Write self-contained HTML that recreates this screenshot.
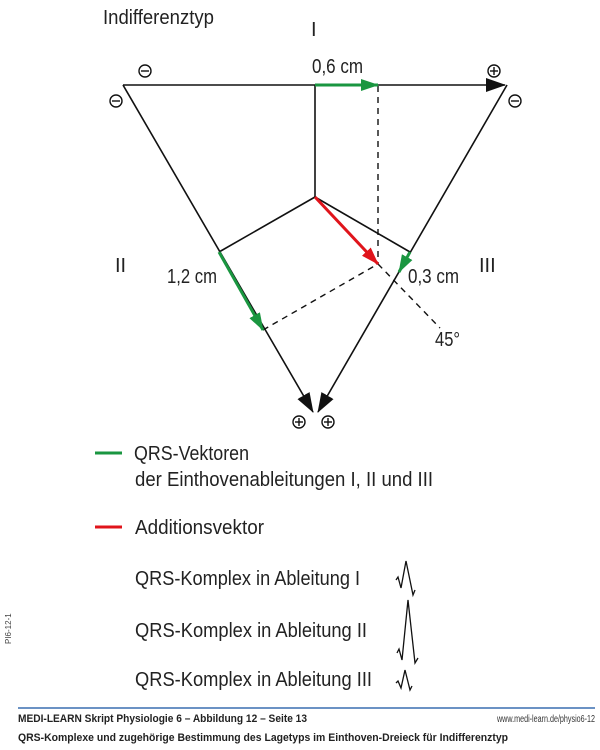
<!DOCTYPE html>
<html><head><meta charset="utf-8"><style>
body{margin:0;background:#fff;width:600px;height:745px;overflow:hidden}
svg text{font-family:"Liberation Sans Narrow","Liberation Sans",sans-serif}
</style></head><body>
<svg width="600" height="745" viewBox="0 0 600 745" xmlns="http://www.w3.org/2000/svg">
<defs>
<marker id="ag" markerWidth="18" markerHeight="12" refX="17" refY="6" orient="auto" markerUnits="userSpaceOnUse"><path d="M0,0 L18,6 L0,12 Z" fill="#1a9640"/></marker>
<marker id="ar" markerWidth="18" markerHeight="12" refX="17" refY="6" orient="auto" markerUnits="userSpaceOnUse"><path d="M0,0 L18,6 L0,12 Z" fill="#e0141b"/></marker>
<marker id="ak" markerWidth="20" markerHeight="14" refX="19" refY="7" orient="auto" markerUnits="userSpaceOnUse"><path d="M0,0 L20,7 L0,14 Z" fill="#111"/></marker>
</defs>
<g font-size="20" fill="#222">
<text x="103" y="24" textLength="111" lengthAdjust="spacingAndGlyphs">Indifferenztyp</text>
<text x="311" y="36">I</text>
<text x="115" y="272">II</text>
<text x="479" y="272">III</text>
<text x="312" y="73" textLength="51" lengthAdjust="spacingAndGlyphs">0,6 cm</text>
<text x="167" y="283" textLength="50" lengthAdjust="spacingAndGlyphs">1,2 cm</text>
<text x="408" y="283" textLength="51" lengthAdjust="spacingAndGlyphs">0,3 cm</text>
<text x="435" y="346" textLength="25" lengthAdjust="spacingAndGlyphs">45°</text>
</g>
<g stroke="#111" stroke-width="1.6" fill="none">
<line x1="123" y1="85" x2="505" y2="85" marker-end="url(#ak)"/>
<line x1="123" y1="85" x2="313" y2="412" marker-end="url(#ak)"/>
<line x1="507" y1="85" x2="318" y2="412" marker-end="url(#ak)"/>
<line x1="315" y1="85" x2="315" y2="197"/>
<line x1="315" y1="197" x2="219" y2="252"/>
<line x1="315" y1="197" x2="410" y2="252"/>
</g>
<g stroke="#111" stroke-width="1.4" stroke-dasharray="6,5" fill="none">
<line x1="378" y1="86" x2="378" y2="264"/>
<line x1="263" y1="330" x2="378" y2="264"/>
<line x1="378" y1="264" x2="440" y2="328"/>
</g>
<g stroke-width="3" fill="none">
<line x1="315" y1="85" x2="378" y2="85" stroke="#1a9640" marker-end="url(#ag)"/>
<line x1="219" y1="252" x2="263" y2="330" stroke="#1a9640" marker-end="url(#ag)"/>
<line x1="410" y1="252" x2="399" y2="272" stroke="#1a9640" marker-end="url(#ag)"/>
<line x1="315" y1="197" x2="378" y2="264" stroke="#e0141b" marker-end="url(#ar)"/>
</g>
<g stroke="#111" stroke-width="1.4" fill="none">
<circle cx="145" cy="71" r="6"/><line x1="141" y1="71" x2="149" y2="71"/>
<circle cx="116" cy="101" r="6"/><line x1="112" y1="101" x2="120" y2="101"/>
<circle cx="515" cy="101" r="6"/><line x1="511" y1="101" x2="519" y2="101"/>
<circle cx="494" cy="71" r="6"/><line x1="490" y1="71" x2="498" y2="71"/><line x1="494" y1="67" x2="494" y2="75"/>
<circle cx="299" cy="422" r="6"/><line x1="295" y1="422" x2="303" y2="422"/><line x1="299" y1="418" x2="299" y2="426"/>
<circle cx="328" cy="422" r="6"/><line x1="324" y1="422" x2="332" y2="422"/><line x1="328" y1="418" x2="328" y2="426"/>
</g>
<line x1="95" y1="453" x2="122" y2="453" stroke="#1a9640" stroke-width="3"/>
<line x1="95" y1="527" x2="122" y2="527" stroke="#e0141b" stroke-width="3"/>
<g font-size="20" fill="#222">
<text x="134" y="460" textLength="115" lengthAdjust="spacingAndGlyphs">QRS-Vektoren</text>
<text x="135" y="486" textLength="298" lengthAdjust="spacingAndGlyphs">der Einthovenableitungen I, II und III</text>
<text x="135" y="534" textLength="129" lengthAdjust="spacingAndGlyphs">Additionsvektor</text>
<text x="135" y="585" textLength="225" lengthAdjust="spacingAndGlyphs">QRS-Komplex in Ableitung I</text>
<text x="135" y="637" textLength="232" lengthAdjust="spacingAndGlyphs">QRS-Komplex in Ableitung II</text>
<text x="135" y="686" textLength="237" lengthAdjust="spacingAndGlyphs">QRS-Komplex in Ableitung III</text>
</g>
<g stroke="#111" stroke-width="1.3" fill="none">
<polyline points="396,580 398,577 401,588 406,561 413,595 415,590"/>
<polyline points="397,653 399,649 402,660 408,600 415,663 418,658"/>
<polyline points="396,683 398,681 401,688 405,670 410,690 412,686"/>
</g>
<line x1="18" y1="708" x2="595" y2="708" stroke="#3a6fb0" stroke-width="1.5"/>
<text x="18" y="722" font-size="11" font-weight="bold" fill="#222" font-family="Liberation Sans,sans-serif" textLength="289" lengthAdjust="spacingAndGlyphs">MEDI-LEARN Skript Physiologie 6 – Abbildung 12 – Seite 13</text>
<text x="497" y="722" font-size="10" fill="#333" font-family="Liberation Sans,sans-serif" textLength="98" lengthAdjust="spacingAndGlyphs">www.medi-learn.de/physio6-12</text>
<text x="18" y="741" font-size="11" font-weight="bold" fill="#222" font-family="Liberation Sans,sans-serif" textLength="490" lengthAdjust="spacingAndGlyphs">QRS-Komplexe und zugehörige Bestimmung des Lagetyps im Einthoven-Dreieck für Indifferenztyp</text>
<text x="0" y="0" font-size="8" fill="#444" transform="translate(11,644) rotate(-90)" font-family="Liberation Sans,sans-serif">PI6-12-1</text>
</svg>
</body></html>
